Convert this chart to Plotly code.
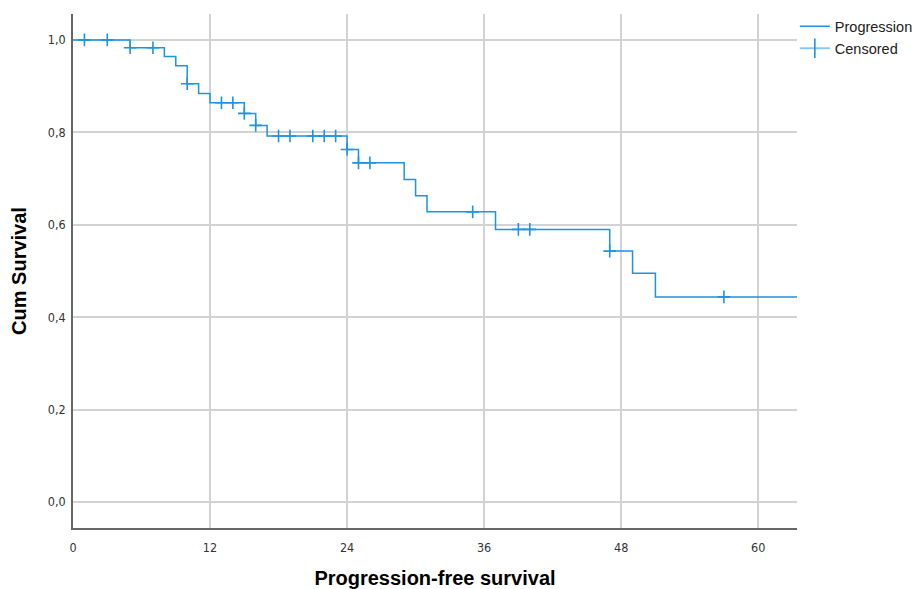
import plotly.graph_objects as go

# Kaplan-Meier step data
event_times = [5, 8, 9, 10, 11, 12, 15, 16, 17, 24, 25, 29, 30, 31, 37, 47, 49, 51]
survival = [0.983, 0.964, 0.944, 0.905, 0.884, 0.864, 0.841, 0.815, 0.792,
            0.763, 0.734, 0.698, 0.663, 0.628, 0.590, 0.543, 0.495, 0.444]
max_followup = 64
censor_times = [1, 3, 5, 7, 10, 13, 14, 15, 16, 18, 19, 21, 22, 23, 24, 25, 26,
                35, 39, 40, 47, 57]

x_ticks = [0, 12, 24, 36, 48, 60]
y_ticks = [0.0, 0.2, 0.4, 0.6, 0.8, 1.0]

LINE = "#1C93E3"
LIGHT = "#8CC6F0"


def surv_at(t):
    s = 1.0
    for et, sv in zip(event_times, survival):
        if et <= t:
            s = sv
    return s


step_x = [0] + event_times + [max_followup]
step_y = [1.0] + survival + [survival[-1]]
censor_y = [surv_at(t) for t in censor_times]

fig = go.Figure()
fig.add_trace(go.Scatter(
    x=step_x, y=step_y, mode="lines", line_shape="hv",
    line=dict(color=LINE, width=1.5), name="Progression", hoverinfo="skip"))
fig.add_trace(go.Scatter(
    x=censor_times, y=censor_y, mode="markers",
    marker=dict(symbol="cross-thin", size=9, line=dict(color=LINE, width=1.6)),
    showlegend=False, name="Censored"))
fig.add_trace(go.Scatter(
    x=[None], y=[None], mode="lines+markers", name="Censored",
    line=dict(color=LIGHT, width=2),
    marker=dict(symbol="line-ns", size=14, line=dict(color=LINE, width=1.6))))

tickfont = dict(family="DejaVu Sans Condensed, Liberation Sans Narrow, Arial Narrow, sans-serif",
                size=12.5, color="#333333")
titlefont = dict(family="Liberation Sans, Arial, sans-serif", size=20, color="#000000")

# the page places the figure 8px from the top-left of the window
fig.update_layout(
    width=914, height=581,
    margin=dict(l=65, r=125, t=6, b=61, autoexpand=False),
    plot_bgcolor="white", paper_bgcolor="white",
    separators=",.",
    showlegend=True,
    legend=dict(x=0.997, y=1.007, xanchor="left", yanchor="top",
                font=dict(family="Liberation Sans, Arial, sans-serif", size=14.5, color="#222222"),
                bgcolor="rgba(0,0,0,0)", tracegroupgap=0, itemwidth=30),
    xaxis=dict(range=[0, 63.4], tickvals=x_ticks, ticktext=[str(v) for v in x_ticks],
               showgrid=True, gridcolor="#D2D2D2", gridwidth=1.5,
               showline=True, linecolor="#666666", linewidth=1.5, automargin=False,
               zeroline=False, ticks="", tickfont=tickfont, ticklabelstandoff=7,
               title=dict(text="<b>Progression-free survival</b>", font=titlefont, standoff=21)),
    yaxis=dict(range=[-0.056, 1.056], tickvals=y_ticks, tickformat=".1f",
               showgrid=True, gridcolor="#D2D2D2", gridwidth=1.5,
               showline=True, linecolor="#666666", linewidth=1.5, automargin=False,
               zeroline=False, ticks="", tickfont=tickfont, ticklabelstandoff=3,
               title=dict(text="<b>Cum Survival</b>", font=titlefont, standoff=20)),
)

fig.write_html("out.html")
